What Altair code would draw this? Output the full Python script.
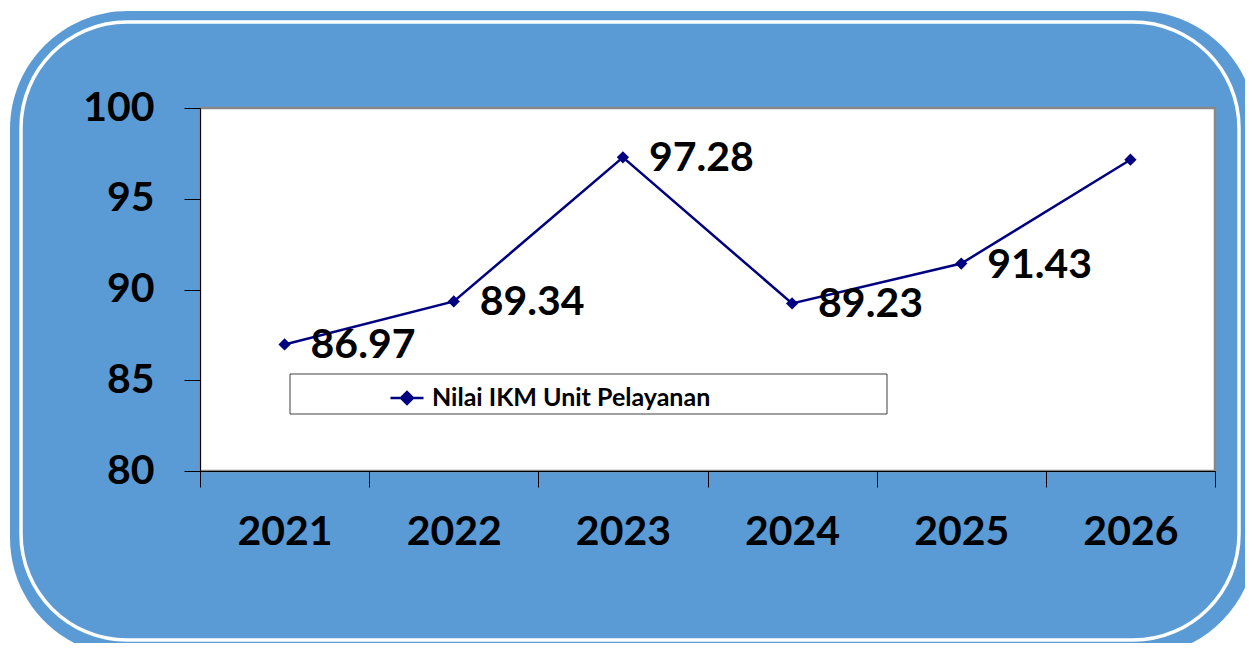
import altair as alt
import pandas as pd

years = ["2021", "2022", "2023", "2024", "2025", "2026"]
values = [86.97, 89.34, 97.28, 89.23, 91.43, 97.15]
labels = ["86.97", "89.34", "97.28", "89.23", "91.43", ""]
series = "Nilai IKM Unit Pelayanan"
y_ticks = [80, 85, 90, 95, 100]

df = pd.DataFrame({"year": years, "value": values, "label": labels, "series": [series] * len(years)})
one = pd.DataFrame({"k": [0]})

W, H = 1015, 363
BLUE = "#5B9BD5"
NAVY = "#000080"
FONT = "Lato"

xenc = alt.X("year:N", scale=alt.Scale(paddingInner=0, paddingOuter=0),
             axis=alt.Axis(title=None, labelAngle=0, tickBand="extent", tickSize=16,
                           labelPadding=25, labelFontSize=41, labelFont=FONT,
                           labelFontWeight="bold", labelColor="black", domainColor="black",
                           tickColor="black", zindex=1))
yenc = alt.Y("value:Q", scale=alt.Scale(domain=[80, 100], nice=False, zero=False),
             axis=alt.Axis(title=None, values=y_ticks, tickSize=16, labelPadding=30,
                           labelFontSize=41, labelFont=FONT, labelFontWeight="bold",
                           labelColor="black", domainColor="black", tickColor="black",
                           grid=False, zindex=1))

outer = alt.Chart(one).mark_rect(fill=BLUE, cornerRadius=118).encode(
    x=alt.value(-190), x2=alt.value(1056), y=alt.value(-97), y2=alt.value(548))
inner = alt.Chart(one).mark_rect(fill=None, stroke="white", strokeWidth=3.5, cornerRadius=106).encode(
    x=alt.value(-179), x2=alt.value(1039), y=alt.value(-86), y2=alt.value(532))
plotbg = alt.Chart(one).mark_rect(fill="white", stroke="#888888", strokeWidth=2.5).encode(
    x=alt.value(0), x2=alt.value(W), y=alt.value(0), y2=alt.value(H))
legbox = alt.Chart(one).mark_rect(fill="white", stroke="#404040", strokeWidth=1).encode(
    x=alt.value(90), x2=alt.value(687), y=alt.value(266), y2=alt.value(306))

color = alt.Color("series:N", scale=alt.Scale(range=[NAVY]),
                  legend=alt.Legend(title=None, orient="none", legendX=189, legendY=272,
                                    symbolType="M-1,0H1M-0.36,0L0,-0.36L0.36,0L0,0.36Z",
                                    symbolSize=1089, symbolStrokeWidth=2.5,
                                    symbolFillColor=NAVY, symbolStrokeColor=NAVY,
                                    labelFont=FONT, labelFontSize=25, labelFontWeight="bold",
                                    labelColor="black", labelOffset=7, labelLimit=0, padding=0))

line = alt.Chart(df).mark_line(strokeWidth=2.5).encode(x=xenc, y=yenc, color=color)
pts = alt.Chart(df).mark_point(shape="diamond", filled=True, size=150, opacity=1).encode(
    x="year:N", y="value:Q", color=alt.Color("series:N", legend=None))
txt = alt.Chart(df).mark_text(align="left", baseline="middle", dx=26, dy=2, font=FONT,
                              fontSize=41, fontWeight="bold", color="black").encode(
    x="year:N", y="value:Q", text="label:N")

chart = alt.layer(outer, inner, plotbg, legbox, line, pts, txt).properties(
    width=W, height=H,
    autosize=alt.AutoSizeParams(type="none"),
    padding={"left": 192, "top": 100, "right": 30, "bottom": 172},
    background="white",
).configure_view(stroke=None)

chart.save("out.html", embed_options={"renderer": "svg", "actions": False})
